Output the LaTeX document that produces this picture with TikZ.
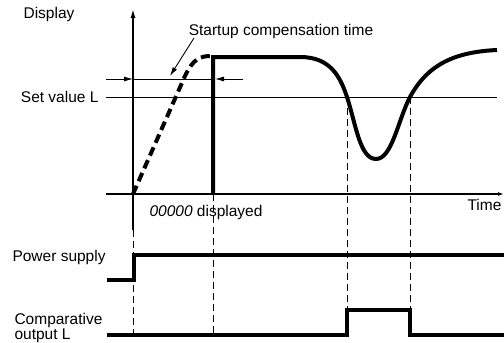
\documentclass[tikz,border=0pt]{standalone}
\usepackage{fontspec}
\setmainfont{Liberation Sans}
\usetikzlibrary{arrows.meta}

\begin{document}
\begin{tikzpicture}[x=1pt,y=1pt,font=\fontsize{15.5}{16}\selectfont]
\tikzset{axis/.style={line width=1.4pt}, fine/.style={line width=0.9pt},
  signal/.style={line width=4pt}, guide/.style={line width=0.9pt,dash pattern=on 7pt off 4pt},
  tip/.style={-{Latex[length=9pt,width=5pt]}}}
\useasboundingbox (0,0) rectangle (504,-343);
% labels
\node (disp) at (49,-14) {Display};
\node[anchor=east] (setL) at (102,-97) {Set value L};
\node (comp) at (281,-31) {Startup compensation time};
\node (shown) at (206,-212) {\textit{00000} displayed};
\node[anchor=east] (time) at (505,-205) {Time};
\node[anchor=west] (pwr) at (9,-257) {Power supply};
\node[anchor=west,align=left] (out) at (11,-328) {Comparative\\[-1pt]output L};
% axes
\coordinate (top) at (133,-9);
\coordinate (o) at (133,-194);
\coordinate (ylow) at (133,-230);
\coordinate (xl) at (106,-194);
\coordinate (xr) at (504,-194);
\draw[axis,tip] (ylow) -- (top);
\draw[axis,-{Latex[length=6pt,width=4pt]}] (xl) -- (xr);
% set value and startup marker
\coordinate (s0) at (106,-97);
\coordinate (s1) at (497,-97);
\draw[fine] (s0) -- (s1);
\coordinate (c0) at (106,-79);
\coordinate (c1) at (133,-79);
\coordinate (c2) at (215,-79);
\coordinate (c3) at (243,-79);
\draw[fine] (c1) -- (c2);
\path[tip] (c0) edge[fine] (c1) (c3) edge[fine] (c2);
\coordinate (lead) at (194,-38);
\coordinate (aim) at (170,-76);
\draw[fine,tip] (lead) -- (aim);
% display value
\coordinate (on) at (213,-194);
\coordinate (ontop) at (213,-57);
\coordinate (p1) at (300,-57);
\coordinate (x1) at (347,-97);
\coordinate (bot) at (376,-159);
\coordinate (x2) at (410,-97);
\coordinate (fin) at (497,-50);
\draw[signal,dash pattern=on 9pt off 5pt] (o) -- (185,-76) .. controls (193,-59) and (200,-56) .. (211,-56);
\draw[signal] (on) -- (ontop) -- (p1) .. controls (330,-57) and (340,-76) .. (x1)
  .. controls (356,-125) and (360,-159) .. (bot) .. controls (392,-159) and (398,-120) .. (x2)
  .. controls (428,-64) and (455,-52) .. (fin);
% time marks
\coordinate (g1) at (133,-335);
\coordinate (g2) at (213,-335);
\coordinate (g3) at (347,-335);
\coordinate (g4) at (410,-335);
\draw[guide] (ylow) -- (g1);
\draw[guide] (on) -- (g2);
\draw[guide] (x1) -- (g3);
\draw[guide] (x2) -- (g4);
% power supply
\coordinate (a0) at (107,-280);
\coordinate (a1) at (134,-280);
\coordinate (a2) at (134,-255);
\coordinate (a3) at (504,-255);
\draw[signal] (a0) -- (a1) -- (a2) -- (a3);
% comparative output
\coordinate (b0) at (107,-335);
\coordinate (b1) at (347,-335);
\coordinate (b2) at (347,-310);
\coordinate (b3) at (410,-310);
\coordinate (b4) at (410,-335);
\coordinate (b5) at (504,-335);
\draw[signal] (b0) -- (b1) -- (b2) -- (b3) -- (b4) -- (b5);
\end{tikzpicture}
\end{document}
